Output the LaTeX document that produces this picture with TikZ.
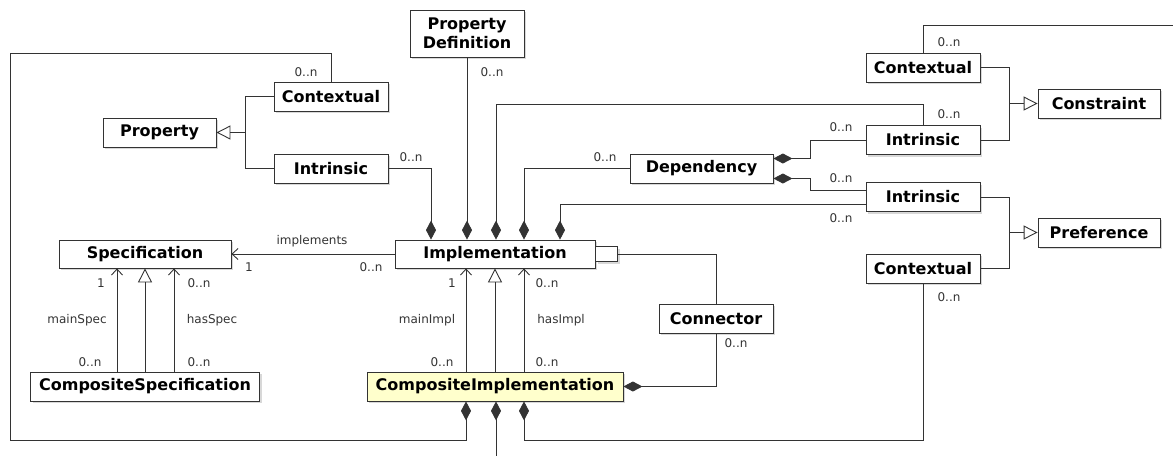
\documentclass[tikz,border=0pt]{standalone}
\usepackage{fontspec}
\setmainfont{DejaVu Sans}
\usepackage{xcolor}
\usepackage{tikz}
\usetikzlibrary{
	arrows.meta,
	shadows,
	positioning
}
\definecolor{NoteYellow}{RGB}{255,255,204}

\begin{document}
\begin{tikzpicture}[x=1pt, y=-1pt,
		cls/.style={draw=black!80, fill=white, line width=0.8pt, inner sep=0pt, minimum height=29pt, align=center,
			font=\fontsize{16}{19}\selectfont\bfseries,
			drop shadow={shadow xshift=2pt, shadow yshift=-2pt, fill=black!30, opacity=0.5}},
		lbl/.style={font=\fontsize{12}{14}\selectfont, text=black!80, inner sep=0pt},
		link/.style={draw=black!80, line width=0.9pt},
		comp/.style={link, {Diamond[length=19pt,width=10pt]}-},
		nav/.style={link, -{Straight Barb[length=6pt,width=11pt]}},
		gen/.style={link, -{Triangle[open,length=14pt,width=14pt,fill=white]}}]
			\useasboundingbox (0,0) rectangle (1173,456);
			% classes
			\node[cls, minimum width=114pt, minimum height=47pt] (pdef) at (467,33.5) {Property\\Definition};
			\node[cls, minimum width=114pt] (ctxL) at (331,96.5) {Contextual};
			\node[cls, minimum width=113pt] (prop) at (159.5,132.5) {Property};
			\node[cls, minimum width=114pt] (intL) at (331,168.5) {Intrinsic};
			\node[cls, minimum width=172pt, minimum height=28pt] (spec) at (145,254) {Specification};
			\node[cls, minimum width=200pt, minimum height=28pt] (impl) at (495,254) {Implementation};
			\node[cls, minimum width=22pt, minimum height=15pt, anchor=west] (qual) at (impl.east) {};
			\node[cls, minimum width=229pt] (cspec) at (145,386.5) {CompositeSpecification};
			\node[cls, fill=NoteYellow, minimum width=256pt] (cimpl) at (495,386.5) {CompositeImplementation};
			\node[cls, minimum width=114pt] (conn) at (716,318.5) {Connector};
			\node[cls, minimum width=143pt] (dep) at (701.5,168.5) {Dependency};
			\node[cls, minimum width=114pt] (ctxC) at (923,67.5) {Contextual};
			\node[cls, minimum width=114pt] (intC) at (923,140) {Intrinsic};
			\node[cls, minimum width=122pt] (cons) at (1099,103.5) {Constraint};
			\node[cls, minimum width=114pt] (intP) at (923,197) {Intrinsic};
			\node[cls, minimum width=122pt] (pref) at (1099,232.5) {Preference};
			\node[cls, minimum width=114pt] (ctxP) at (923,268.5) {Contextual};
			\coordinate (loopL) at (10,440);
			\coordinate (loopT) at (10,53);
			\coordinate (rowT) at (923,104);
			\coordinate (exitR) at (1173,25);
			\coordinate (exitB) at (495,456);
			% generalisations
			\draw[gen] (ctxL.west) -| ([xshift=29pt]prop.east) -- (prop.east);
			\draw[link] (intL.west) -| ([xshift=29pt]prop.east);
			\draw[gen] (ctxC.east) -| ([xshift=-28pt]cons.west) -- (cons.west);
			\draw[link] (intC.east) -| ([xshift=-28pt]cons.west);
			\draw[gen] (intP.east) -| ([xshift=-28pt]pref.west) -- (pref.west);
			\draw[link] (ctxP.east) -| ([xshift=-28pt]pref.west);
			\draw[gen] (cspec.north) -- (spec.south);
			\draw[gen] (cimpl.north) -- (impl.south);
			% associations
			\draw[nav] (impl.west) -- (spec.east);
			\draw[nav] ([xshift=-28pt]cspec.north) -- ([xshift=-28pt]spec.south);
			\draw[nav] ([xshift=29pt]cspec.north) -- ([xshift=29pt]spec.south);
			\draw[nav] ([xshift=-29pt]cimpl.north) -- ([xshift=-29pt]impl.south);
			\draw[nav] ([xshift=29pt]cimpl.north) -- ([xshift=29pt]impl.south);
			\draw[link] (qual.east) -| (conn.north);
			\draw[link] (ctxC.north) |- (exitR);
			% compositions
			\draw[comp] (impl.north -| pdef.south) -- (pdef.south);
			\draw[comp] ([xshift=-64pt]impl.north) |- (intL.east);
			\draw[comp] ([xshift=1pt]impl.north) |- (rowT) -- (intC.north);
			\draw[comp] ([xshift=29pt]impl.north) |- (dep.west);
			\draw[comp] ([xshift=65pt]impl.north) |- ([yshift=-7pt]intP.west);
			\draw[comp] ([yshift=10pt]dep.east) -- ++(37,0) |- (intC.west);
			\draw[comp] ([yshift=-10pt]dep.east) -- ++(37,0) |- ([yshift=7pt]intP.west);
			\draw[comp] (cimpl.east) -| (conn.south);
			\draw[comp] ([xshift=-29pt]cimpl.south) |- (loopL) |- (loopT) -| (ctxL.north);
			\draw[comp] ([xshift=1pt]cimpl.south) -- ([xshift=1pt]exitB);
			\draw[comp] ([xshift=29pt]cimpl.south) |- (loopL -| ctxP.south) -- (ctxP.south);
			% multiplicities and roles
			\foreach \x/\y [count=\i] in {306/72, 492/72, 411/157, 949/114, 605/157, 841/218, 841/127, 841/178,
				949/42, 949/297, 736/343, 371/267, 199/283, 90/362, 199/362, 547/283, 442/362, 547/362}
				\node[lbl] (mult\i) at (\x,\y) {0..n};
			\node[lbl] (oneImp) at (249,267) {1};
			\node[lbl] (oneSpec) at (101,283) {1};
			\node[lbl] (oneImpl) at (452,283) {1};
			\node[lbl] (implements) at (312,241) {implements};
			\node[lbl] (mainSpec) at (77,320) {mainSpec};
			\node[lbl] (hasSpec) at (212,320) {hasSpec};
			\node[lbl] (mainImpl) at (427,320) {mainImpl};
			\node[lbl] (hasImpl) at (561,320) {hasImpl};
		\end{tikzpicture}
\end{document}
